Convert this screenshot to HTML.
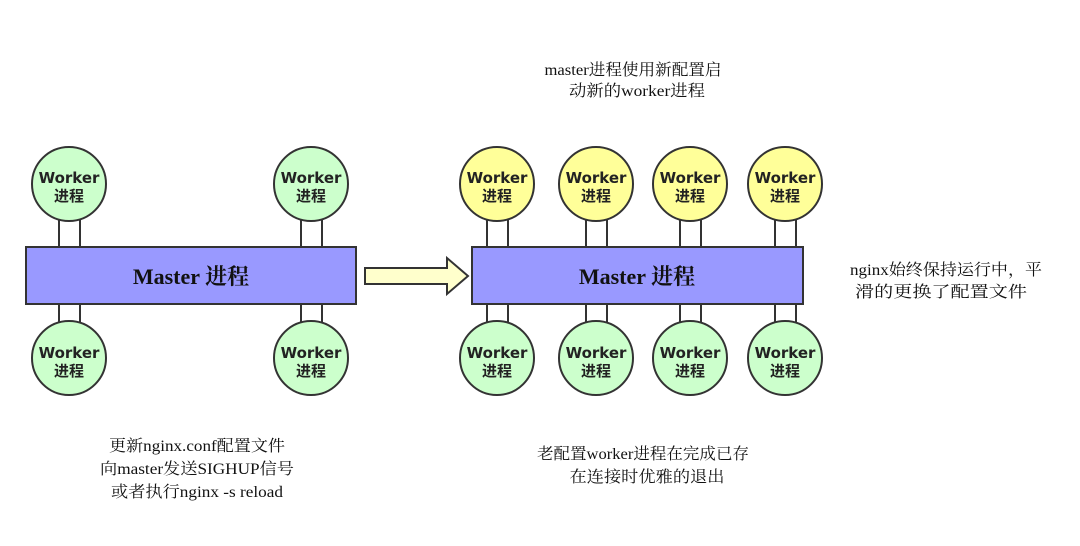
<!DOCTYPE html>
<html><head><meta charset="utf-8"><style>
html,body{margin:0;padding:0;background:#fff;}
svg{display:block;}
.w{font-family:"DejaVu Sans","Noto Sans CJK SC",sans-serif;font-weight:bold;font-size:15px;fill:#222;}
.t{font-family:"Liberation Serif","Noto Serif CJK SC",serif;font-size:16px;fill:#111;}
.m{font-family:"Liberation Serif","Noto Serif CJK SC",serif;font-weight:bold;font-size:22px;fill:#111;}
</style></head><body>
<svg width="1080" height="546" viewBox="0 0 1080 546" xmlns="http://www.w3.org/2000/svg">
<g stroke="#333" stroke-width="2">
<line x1="59" y1="220" x2="59" y2="247"/><line x1="80" y1="220" x2="80" y2="247"/>
<line x1="301" y1="220" x2="301" y2="247"/><line x1="322" y1="220" x2="322" y2="247"/>
<line x1="59" y1="304" x2="59" y2="322"/><line x1="80" y1="304" x2="80" y2="322"/>
<line x1="301" y1="304" x2="301" y2="322"/><line x1="322" y1="304" x2="322" y2="322"/>
<line x1="487" y1="220" x2="487" y2="247"/><line x1="508" y1="220" x2="508" y2="247"/>
<line x1="586" y1="220" x2="586" y2="247"/><line x1="607" y1="220" x2="607" y2="247"/>
<line x1="680" y1="220" x2="680" y2="247"/><line x1="701" y1="220" x2="701" y2="247"/>
<line x1="775" y1="220" x2="775" y2="247"/><line x1="796" y1="220" x2="796" y2="247"/>
<line x1="487" y1="304" x2="487" y2="322"/><line x1="508" y1="304" x2="508" y2="322"/>
<line x1="586" y1="304" x2="586" y2="322"/><line x1="607" y1="304" x2="607" y2="322"/>
<line x1="680" y1="304" x2="680" y2="322"/><line x1="701" y1="304" x2="701" y2="322"/>
<line x1="775" y1="304" x2="775" y2="322"/><line x1="796" y1="304" x2="796" y2="322"/>
<rect x="26" y="247" width="330" height="57" fill="#9999ff"/>
<rect x="472" y="247" width="331" height="57" fill="#9999ff"/>
<polygon points="365,268 447,268 447,258 468,276 447,294 447,284 365,284" fill="#ffffcc"/>
<g fill="#ccffcc">
<circle cx="69" cy="184" r="37"/><circle cx="311" cy="184" r="37"/>
<circle cx="69" cy="358" r="37"/><circle cx="311" cy="358" r="37"/>
<circle cx="497" cy="358" r="37"/><circle cx="596" cy="358" r="37"/>
<circle cx="690" cy="358" r="37"/><circle cx="785" cy="358" r="37"/>
</g>
<g fill="#ffff99">
<circle cx="497" cy="184" r="37"/><circle cx="596" cy="184" r="37"/>
<circle cx="690" cy="184" r="37"/><circle cx="785" cy="184" r="37"/>
</g>
</g>
<g class="w" text-anchor="middle">
<text x="69" y="183">Worker</text><text x="69" y="201">进程</text>
<text x="311" y="183">Worker</text><text x="311" y="201">进程</text>
<text x="69" y="358">Worker</text><text x="69" y="376">进程</text>
<text x="311" y="358">Worker</text><text x="311" y="376">进程</text>
<text x="497" y="183">Worker</text><text x="497" y="201">进程</text>
<text x="596" y="183">Worker</text><text x="596" y="201">进程</text>
<text x="690" y="183">Worker</text><text x="690" y="201">进程</text>
<text x="785" y="183">Worker</text><text x="785" y="201">进程</text>
<text x="497" y="358">Worker</text><text x="497" y="376">进程</text>
<text x="596" y="358">Worker</text><text x="596" y="376">进程</text>
<text x="690" y="358">Worker</text><text x="690" y="376">进程</text>
<text x="785" y="358">Worker</text><text x="785" y="376">进程</text>
</g>
<g class="m" text-anchor="middle">
<text x="191" y="284">Master 进程</text>
<text x="637" y="284">Master 进程</text>
</g>
<g class="t" text-anchor="middle">
<text x="633" y="75" textLength="177" lengthAdjust="spacingAndGlyphs">master进程使用新配置启</text>
<text x="637" y="96" textLength="136" lengthAdjust="spacingAndGlyphs">动新的worker进程</text>
<text x="946" y="275" textLength="192" lengthAdjust="spacingAndGlyphs">nginx始终保持运行中，平</text>
<text x="941" y="297" textLength="172" lengthAdjust="spacingAndGlyphs">滑的更换了配置文件</text>
<text x="197" y="451" textLength="176" lengthAdjust="spacingAndGlyphs">更新nginx.conf配置文件</text>
<text x="197" y="474" textLength="194" lengthAdjust="spacingAndGlyphs">向master发送SIGHUP信号</text>
<text x="197" y="497" textLength="172" lengthAdjust="spacingAndGlyphs">或者执行nginx -s reload</text>
<text x="643" y="459" textLength="212" lengthAdjust="spacingAndGlyphs">老配置worker进程在完成已存</text>
<text x="647" y="482" textLength="155" lengthAdjust="spacingAndGlyphs">在连接时优雅的退出</text>
</g>
</svg>
</body></html>
